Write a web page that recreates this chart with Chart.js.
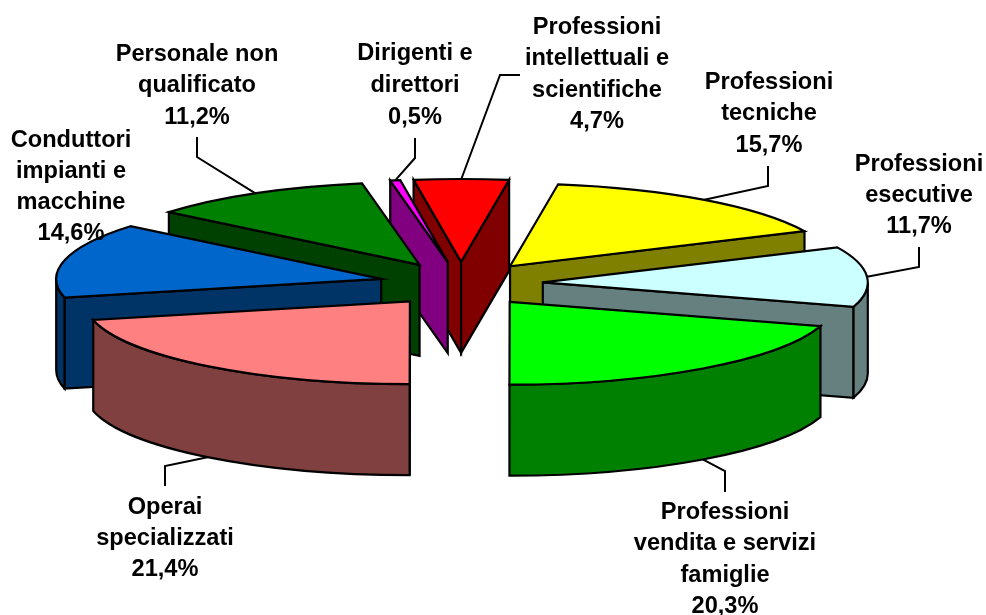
<!DOCTYPE html>
<html>
<head>
<meta charset="utf-8">
<script src="https://cdn.jsdelivr.net/npm/chart.js@4"></script>
<style>
  html, body { margin: 0; padding: 0; background: #fff; }
  canvas { display: block; }
</style>
</head>
<body>
<canvas id="chart-1" width="986" height="615"></canvas>
<script>
// values
const categories = [
  "Dirigenti e direttori",
  "Professioni intellettuali e scientifiche",
  "Professioni tecniche",
  "Professioni esecutive",
  "Professioni vendita e servizi famiglie",
  "Operai specializzati",
  "Conduttori impianti e macchine",
  "Personale non qualificato"
];
const shares = [0.5, 4.7, 15.7, 11.7, 20.3, 21.4, 14.6, 11.2];
const topColors = ["#FF00FF", "#FF0000", "#FFFF00", "#CCFFFF", "#00FF00", "#FF8080", "#0066CC", "#008000"];
const sideColors = ["#800080", "#800000", "#808000", "#668080", "#008000", "#804040", "#003366", "#004000"];

// wrapped label lines, one entry per category
const labelLines = [
  ["Dirigenti e", "direttori"],
  ["Professioni", "intellettuali e", "scientifiche"],
  ["Professioni", "tecniche"],
  ["Professioni", "esecutive"],
  ["Professioni", "vendita e servizi", "famiglie"],
  ["Operai", "specializzati"],
  ["Conduttori", "impianti e", "macchine"],
  ["Personale non", "qualificato"]
];
// label centre x and first line y
const labelX = [415, 597, 769, 919, 725, 165, 71, 197];
const labelY = [53, 27, 82, 164, 512, 507, 140, 54];
const lineGap = [32, 31.5, 31.5, 31, 31.5, 31, 31.3, 31.5];
// leader bends, going from the slice out to its label
const leaderBends = [
  [[415, 158], [415, 138]],
  [[500, 75], [520, 75]],
  [[768, 186], [768, 166]],
  [[919, 267], [919, 247]],
  [[725, 471], [725, 492]],
  [[165, 466], [165, 486]],
  [],
  [[197, 157], [197, 137]]
];

// fake 3d settings
const squash = 0.255;
const depth = 91;
const explode = 82;
const explodeSquash = 0.27;
const outline = 2.2;

function sliceGeom(arc) {
  const mid = (arc.startAngle + arc.endAngle) / 2;
  const r = arc.outerRadius;
  return {
    a0: arc.startAngle,
    a1: arc.endAngle,
    mid: mid,
    r: r,
    ry: r * squash,
    ox: arc.x + Math.cos(mid) * explode,
    oy: arc.y + Math.sin(mid) * explode * explodeSquash
  };
}

function fillStroke(ctx, color) {
  ctx.fillStyle = color;
  ctx.fill();
  ctx.stroke();
}

function radialFace(ctx, g, a, color) {
  const ex = g.ox + g.r * Math.cos(a);
  const ey = g.oy + g.ry * Math.sin(a);
  ctx.beginPath();
  ctx.moveTo(g.ox, g.oy);
  ctx.lineTo(ex, ey);
  ctx.lineTo(ex, ey + depth);
  ctx.lineTo(g.ox, g.oy + depth);
  ctx.closePath();
  fillStroke(ctx, color);
}

function drawSlice(ctx, arc, i) {
  const g = sliceGeom(arc);
  ctx.lineWidth = outline;
  ctx.strokeStyle = "#000";
  ctx.lineJoin = "miter";

  // flat sides, only those turned to the viewer
  if (Math.cos(g.a0) < 0) radialFace(ctx, g, g.a0, sideColors[i]);
  if (Math.cos(g.a1) > 0) radialFace(ctx, g, g.a1, sideColors[i]);

  // curved rim, front half of the circle only
  for (let k = -1; k <= 1; k++) {
    const lo = Math.max(g.a0, 2 * Math.PI * k);
    const hi = Math.min(g.a1, Math.PI + 2 * Math.PI * k);
    if (lo < hi) {
      ctx.beginPath();
      ctx.ellipse(g.ox, g.oy, g.r, g.ry, 0, lo, hi);
      ctx.ellipse(g.ox, g.oy + depth, g.r, g.ry, 0, hi, lo, true);
      ctx.closePath();
      fillStroke(ctx, sideColors[i]);
    }
  }

  // top face is the library's own arc, flattened
  ctx.save();
  ctx.translate(g.ox, g.oy);
  ctx.scale(1, squash);
  ctx.translate(-arc.x, -arc.y);
  arc.draw(ctx);
  ctx.restore();

  ctx.beginPath();
  ctx.moveTo(g.ox, g.oy);
  ctx.ellipse(g.ox, g.oy, g.r, g.ry, 0, g.a0, g.a1);
  ctx.closePath();
  ctx.stroke();
}

const pie3d = {
  id: "pie3d",
  beforeDatasetDraw(chart, args) {
    const arcs = args.meta.data;
    const order = arcs.map((a, i) => i);
    // back slices first
    order.sort((p, q) => Math.sin(sliceGeom(arcs[p]).mid) - Math.sin(sliceGeom(arcs[q]).mid));
    order.forEach((i) => drawSlice(chart.ctx, arcs[i], i));
    return false;
  },
  afterDraw(chart) {
    const ctx = chart.ctx;
    const arcs = chart.getDatasetMeta(0).data;
    ctx.save();
    ctx.strokeStyle = "#000";
    ctx.lineWidth = 2;
    arcs.forEach((arc, i) => {
      const bends = leaderBends[i];
      if (!bends.length) return;
      const g = sliceGeom(arc);
      const front = Math.sin(g.mid) > 0;
      ctx.beginPath();
      ctx.moveTo(g.ox + g.r * Math.cos(g.mid), g.oy + g.ry * Math.sin(g.mid) + (front ? depth : 0));
      bends.forEach((p) => ctx.lineTo(p[0], p[1]));
      ctx.stroke();
    });

    ctx.fillStyle = "#000";
    ctx.font = "bold 23.6px 'Liberation Sans', Arial, sans-serif";
    ctx.textAlign = "center";
    ctx.textBaseline = "middle";
    shares.forEach((v, i) => {
      const lines = labelLines[i].concat(v.toFixed(1).replace(".", ",") + "%");
      lines.forEach((txt, n) => {
        ctx.fillText(txt, labelX[i], labelY[i] + n * lineGap[i]);
      });
    });
    ctx.restore();
  }
};

new Chart(document.getElementById("chart-1").getContext("2d"), {
  type: "pie",
  data: {
    labels: categories,
    datasets: [{
      data: shares,
      backgroundColor: topColors,
      borderWidth: 0
    }]
  },
  options: {
    responsive: false,
    animation: false,
    rotation: -10.2,
    radius: 325,
    layout: { padding: { right: 64, bottom: 47 } },
    plugins: {
      legend: { display: false },
      tooltip: { enabled: false }
    }
  },
  plugins: [pie3d]
});
</script>
</body>
</html>
